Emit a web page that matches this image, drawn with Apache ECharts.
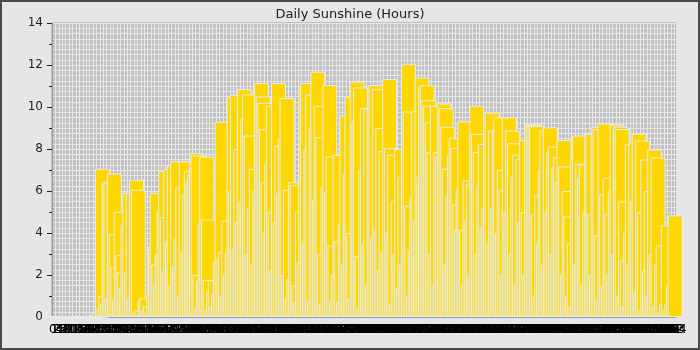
<!DOCTYPE html>
<html>
<head>
<meta charset="utf-8">
<script src="https://cdn.jsdelivr.net/npm/echarts@6/dist/echarts.min.js"></script>
<style>
html,body{margin:0;padding:0;background:#e6e6e6;}
#wrap{position:relative;width:700px;height:350px;}
#chart{width:700px;height:350px;}
#frame{position:absolute;left:0;top:0;width:700px;height:350px;box-sizing:border-box;border:2px solid #4a4a4a;pointer-events:none;}
</style>
</head>
<body>
<div id="wrap"><div id="chart"></div><div id="frame"></div></div>
<script>
const titleText = 'Daily Sunshine (Hours)';
const yTicks = [0, 2, 4, 6, 8, 10, 12, 14];
const days = Array.from({length: 365}, (_, i) => String(i));
const sunshine = [
0,0,0,0,0,0,0,0,0,0, 0,0,0,0,0,0,0,0,0,0, 0,0,0,0,0,0,0.1,0.2,0,7.06,
0.4,1.0,0.6,6.42,6.4,0.9,6.83,3.94,2.37,0.8, 5.0,2.94,2.13,1.4,4.37,5.92,2.13,5.9,0.9,6.54,
6.06,0.2,0.3,0.1,0.8,0.9,0.3,0.5,0.2,1.1, 3.34,5.92,2.5,1.6,3.0,5.03,6.95,4.76,2.2,7.06,
3.57,7.21,1.5,7.42,2.4,3.73,6.15,1.0,7.42,3.04, 5.82,6.94,6.45,6.79,7.8,7.69,2.0,0.4,1.7,4.45,
7.64,4.64,1.76,0.3,1.2,1.76,0.5,1.1,2.6,9.3, 2.75,3.1,1.0,4.6,2.0,3.04,10.5,6.0,10.58,3.27,
8.0,4.52,10.85,5.5,9.43,10.6,8.64,3.0,5.2,7.06, 2.5,6.0,11.14,10.5,10.2,8.95,6.42,4.0,7.29,10.06,
5.0,2.2,11.14,4.5,8.16,5.87,8.48,10.43,2.0,6.06, 0.9,1.8,6.42,6.27,1.5,0.7,5.0,2.6,11.0,11.14,
3.5,8.0,10.6,0.8,9.04,11.68,5.6,10.05,8.56,3.0, 0.6,6.2,11.04,5.95,7.64,3.4,0.8,2.0,7.72,3.6,
0.7,4.4,9.6,2.5,6.8,10.5,4.0,0.9,11.21,9.27, 10.93,2.9,0.4,6.98,9.95,3.5,9.95,1.5,10.0,11.04,
3.8,10.85,4.2,9.0,2.2,7.9,3.1,11.33,8.05,4.0, 7.72,0.6,5.5,3.0,8.0,1.4,6.66,2.5,12.04,9.78,
5.3,1.0,3.2,5.68,9.8,4.6,11.4,6.66,10.96,11.04, 10.33,10.06,9.27,7.85,3.0,10.06,1.5,7.85,7.61,10.17,
9.95,9.06,7.06,2.5,5.79,7.69,8.53,8.05,5.36,4.16, 6.06,9.32,4.16,1.5,6.5,4.64,6.35,2.0,10.06,8.72,
7.85,3.0,6.27,8.24,4.29,5.16,9.16,9.74,3.5,8.88, 5.16,8.84,9.51,4.0,7.0,6.06,2.0,9.51,5.0,8.88,
8.27,3.0,6.69,7.74,1.5,7.53,4.5,8.43,5.0,2.0, 9.16,9.16,9.11,9.11,4.92,1.0,5.82,3.5,7.0,8.88,
2.5,9.03,5.0,7.85,8.11,3.0,7.13,7.61,6.42,8.43, 7.17,2.0,6.0,4.79,1.0,3.5,0.5,7.64,8.64,2.5,
7.29,6.63,7.26,1.5,5.0,8.75,8.72,4.92,2.0,9.06, 8.95,3.89,0.8,9.22,5.84,1.5,6.63,4.92,2.0,6.0,
9.16,3.0,9.06,8.95,1.0,5.5,2.7,0.5,4.0,8.24, 2.5,8.32,5.5,8.73,1.2,8.4,5.0,0.3,7.5,2.2,
6.0,1.0,7.97,3.0,7.6,0.5,2.5,3.4,0.2,0.6, 4.37,0.3,0.6,1.5,4.84
];

const chart = echarts.init(document.getElementById('chart'), null, {renderer: 'canvas'});
const fontFamily = 'DejaVu Sans';
chart.setOption({
  backgroundColor: '#e6e6e6',
  animation: false,
  title: {
    text: titleText, left: 'center', top: 3,
    textStyle: {fontFamily, fontSize: 13, fontWeight: 'normal', color: '#222'}
  },
  grid: {
    left: 52, right: 24, top: 23, bottom: 33,
    show: true, backgroundColor: '#c0c0c0', borderColor: '#9a9a9a', borderWidth: 1
  },
  xAxis: {
    type: 'category', data: days,
    axisLine: {show: true, lineStyle: {color: '#9a9a9a'}},
    axisTick: {show: false},
    axisLabel: {interval: 0, fontFamily, fontSize: 12, color: '#000', margin: 7},
    splitLine: {show: true, interval: 1, lineStyle: {color: '#e6e6e6', width: 1}}
  },
  yAxis: [{
    type: 'value', min: 0, max: 14, interval: 2,
    axisLine: {show: true, lineStyle: {color: '#9a9a9a'}},
    axisTick: {show: true, length: 5, lineStyle: {color: '#222'}},
    minorTick: {show: true, splitNumber: 2, length: 3, lineStyle: {color: '#222'}},
    axisLabel: {fontFamily, fontSize: 12, color: '#222', margin: 9,
      formatter: v => yTicks.includes(v) ? String(v) : ''},
    splitLine: {show: false}
  }, {
    type: 'value', min: 0, max: 14, interval: 0.25, position: 'left',
    axisLine: {show: false}, axisTick: {show: false}, axisLabel: {show: false},
    splitLine: {show: true, lineStyle: {color: '#e6e6e6', width: 1}}
  }],
  series: [{
    type: 'bar', data: sunshine, yAxisIndex: 0, barWidth: 15, clip: false,
    itemStyle: {color: '#ffd700', borderColor: '#e4ecf6', borderWidth: 1}
  }]
});
</script>
</body>
</html>
